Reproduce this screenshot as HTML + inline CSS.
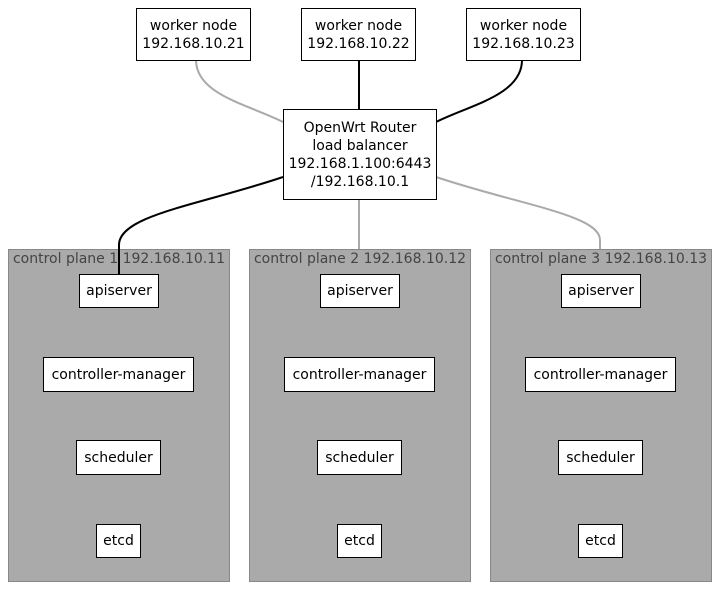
<!DOCTYPE html>
<html><head><style>
body{margin:0;width:727px;height:596px;background:#fff;font-family:"DejaVu Sans","Liberation Sans",sans-serif;position:relative;overflow:hidden}
.c{position:absolute;background:#aaa;border:1px solid #888;box-sizing:border-box;top:249px;width:222px;height:333px}
.c span{position:absolute;top:0;left:0;right:0;text-align:center;color:#444;font-size:14px;line-height:18px}
.b{position:absolute;background:#fff;border:1px solid #000;box-sizing:border-box;font-size:14px;display:flex;align-items:center;justify-content:center;text-align:center;line-height:18px;color:#000}
svg{position:absolute;left:0;top:0}
</style></head><body>
<div class="c" style="left:8px"><span>control plane 1 192.168.10.11</span></div>
<div class="c" style="left:249px"><span>control plane 2 192.168.10.12</span></div>
<div class="c" style="left:490px"><span>control plane 3 192.168.10.13</span></div>
<svg width="727" height="596" fill="none">
<path d="M196 60 C196 95 250 105 283 122" stroke="#aaa" stroke-width="2"/>
<path d="M359 60 V109" stroke="#000" stroke-width="2"/>
<path d="M522 60 C522 95 470 105 436 122" stroke="#000" stroke-width="2"/>
<path d="M283 177 C200 205 119 215 119 245 V274" stroke="#000" stroke-width="2"/>
<path d="M359 199 V249" stroke="#aaa" stroke-width="2"/>
<path d="M436 177 C520 205 600 215 600 240 V249" stroke="#aaa" stroke-width="2"/>
</svg>
<div class="b" style="left:136px;top:8px;width:115px;height:53px">worker node<br>192.168.10.21</div>
<div class="b" style="left:301px;top:8px;width:115px;height:53px">worker node<br>192.168.10.22</div>
<div class="b" style="left:466px;top:8px;width:115px;height:53px">worker node<br>192.168.10.23</div>
<div class="b" style="left:283px;top:109px;width:154px;height:91px">OpenWrt Router<br>load balancer<br>192.168.1.100:6443<br>/192.168.10.1</div>
<div class="b" style="left:79px;top:274px;width:80px;height:34px">apiserver</div>
<div class="b" style="left:43px;top:357px;width:151px;height:35px">controller-manager</div>
<div class="b" style="left:76px;top:440px;width:85px;height:35px">scheduler</div>
<div class="b" style="left:96px;top:524px;width:45px;height:34px">etcd</div>
<div class="b" style="left:320px;top:274px;width:80px;height:34px">apiserver</div>
<div class="b" style="left:284px;top:357px;width:151px;height:35px">controller-manager</div>
<div class="b" style="left:317px;top:440px;width:85px;height:35px">scheduler</div>
<div class="b" style="left:337px;top:524px;width:45px;height:34px">etcd</div>
<div class="b" style="left:561px;top:274px;width:80px;height:34px">apiserver</div>
<div class="b" style="left:525px;top:357px;width:151px;height:35px">controller-manager</div>
<div class="b" style="left:558px;top:440px;width:85px;height:35px">scheduler</div>
<div class="b" style="left:578px;top:524px;width:45px;height:34px">etcd</div>
</body></html>
